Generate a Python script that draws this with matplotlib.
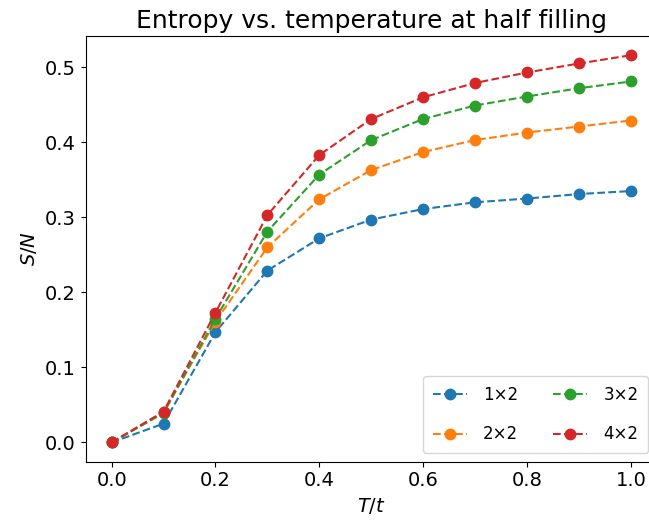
import matplotlib
matplotlib.use("Agg")
import matplotlib.pyplot as plt

temps = [0.0, 0.1, 0.2, 0.3, 0.4, 0.5, 0.6, 0.7, 0.8, 0.9, 1.0]
labels = ["1\u00d72", "2\u00d72", "3\u00d72", "4\u00d72"]
s_1x2 = [0.0, 0.025, 0.147, 0.229, 0.272, 0.297, 0.311, 0.320, 0.325, 0.331, 0.335]
s_2x2 = [0.0, 0.040, 0.161, 0.260, 0.324, 0.363, 0.387, 0.403, 0.413, 0.421, 0.429]
s_3x2 = [0.0, 0.039, 0.165, 0.281, 0.357, 0.403, 0.431, 0.449, 0.461, 0.472, 0.481]
s_4x2 = [0.0, 0.041, 0.173, 0.303, 0.383, 0.431, 0.460, 0.479, 0.493, 0.505, 0.516]

fig, ax = plt.subplots(figsize=(6.49, 5.2), dpi=100)
for lab, s in zip(labels, [s_1x2, s_2x2, s_3x2, s_4x2]):
    ax.plot(temps, s, "o--", label=lab, markersize=7.5, linewidth=1.5)

ax.set_title("Entropy vs. temperature at half filling", fontsize=18)
ax.set_xlabel("$T/t$", fontsize=14)
ax.set_ylabel("$S/N$", fontsize=14)
ax.tick_params(labelsize=14)
ax.legend(ncol=2, fontsize=12, loc="lower right", borderpad=0.6,
          labelspacing=1.3, handletextpad=1.0, columnspacing=2.1)

# axes deliberately runs a little past the right edge, as in the original
fig.subplots_adjust(left=0.132, right=1.012, bottom=0.112, top=0.931)
fig.savefig("out.png")
